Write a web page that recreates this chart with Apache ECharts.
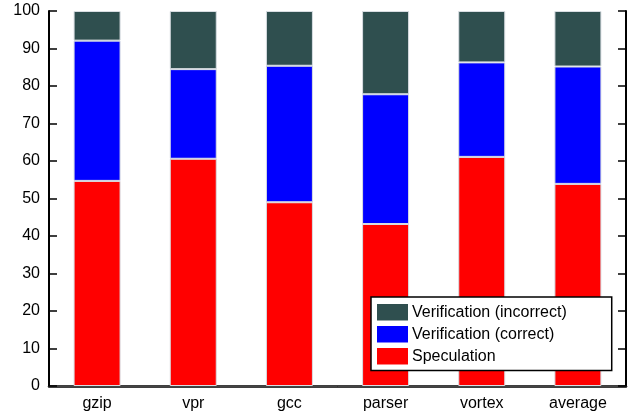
<!DOCTYPE html>
<html>
<head>
<meta charset="utf-8">
<script src="https://cdn.jsdelivr.net/npm/echarts@6/dist/echarts.min.js"></script>
<style>
  html, body { margin: 0; padding: 0; background: #fff; }
  #chart { width: 633px; height: 413px; }
</style>
</head>
<body>
<div id="chart"></div>
<script>
// Benchmarks on the x axis
const categories = ['gzip', 'vpr', 'gcc', 'parser', 'vortex', 'average'];
// Share of time (%) per phase, stacked bottom to top
const speculation = [54.7, 60.6, 49.0, 43.2, 61.1, 53.9];
const verifCorrect = [37.4, 23.9, 36.4, 34.6, 25.2, 31.3];
const verifIncorrect = [7.9, 15.5, 14.6, 22.2, 13.7, 14.8];
const yTicks = [0, 10, 20, 30, 40, 50, 60, 70, 80, 90, 100];

const FONT = 'Liberation Sans, Arial, sans-serif';
const barBorder = { borderColor: '#d8dde2', borderWidth: 1 };

const chart = echarts.init(document.getElementById('chart'), null, { renderer: 'canvas' });

function bar(name, data, color) {
  return {
    name, type: 'bar', stack: 'total', data, barWidth: 47,
    itemStyle: Object.assign({ color }, barBorder),
    emphasis: { disabled: true }
  };
}

chart.setOption({
  animation: false,
  textStyle: { fontFamily: FONT },
  grid: { left: 49, right: 7, top: 11, bottom: 27 },
  legend: {
    orient: 'vertical',
    left: 371, top: 297,
    data: ['Verification (incorrect)', 'Verification (correct)', 'Speculation'],
    itemWidth: 31, itemHeight: 16.5, itemGap: 5.5,
    padding: [7, 45, 6, 6],
    backgroundColor: '#fff', borderColor: '#000', borderWidth: 1.5, borderRadius: 0,
    icon: 'rect',
    itemStyle: { borderWidth: 0 },
    textStyle: { fontFamily: FONT, fontSize: 16, color: '#000', padding: [0, 0, 0, -1] }
  },
  xAxis: [
    {
      type: 'category', data: categories, position: 'bottom',
      axisLine: { lineStyle: { color: '#000', width: 2.5 } },
      axisTick: { show: false },
      axisLabel: { fontFamily: FONT, fontSize: 16, color: '#000', margin: 10 },
      splitLine: { show: false }
    },
    {
      type: 'category', data: categories, position: 'top',
      axisLine: { lineStyle: { color: '#444', width: 1 } },
      axisTick: { show: false }, axisLabel: { show: false }
    }
  ],
  yAxis: [
    {
      type: 'value', min: yTicks[0], max: yTicks[yTicks.length - 1], interval: 10,
      position: 'left',
      axisLine: { show: true, lineStyle: { color: '#000', width: 2 } },
      axisTick: { show: true, inside: true, length: 8, lineStyle: { color: '#000', width: 1.5 } },
      axisLabel: { fontFamily: FONT, fontSize: 16, color: '#000', margin: 9 },
      splitLine: { show: false }
    },
    {
      type: 'value', min: yTicks[0], max: yTicks[yTicks.length - 1], interval: 10,
      position: 'right',
      axisLine: { show: true, lineStyle: { color: '#000', width: 2 } },
      axisTick: { show: true, inside: true, length: 8, lineStyle: { color: '#000', width: 1.5 } },
      axisLabel: { show: false },
      splitLine: { show: false }
    }
  ],
  series: [
    bar('Speculation', speculation, '#ff0000'),
    bar('Verification (correct)', verifCorrect, '#0000ff'),
    bar('Verification (incorrect)', verifIncorrect, '#2f4f4f')
  ]
});
</script>
</body>
</html>
